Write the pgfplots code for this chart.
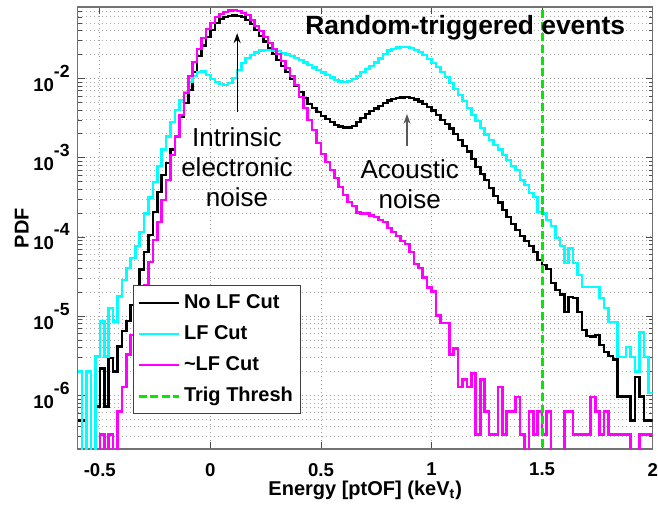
\documentclass[border=0pt]{standalone}
\usepackage{fontspec}
\setmainfont{Liberation Sans}
\usepackage{pgfplots}
\pgfplotsset{compat=1.18}
\usepackage{pgfplotstable}
\usetikzlibrary{calc,arrows.meta}
\definecolor{trig}{RGB}{0,235,0}
\definecolor{cyanl}{RGB}{0,255,255}
\definecolor{magl}{RGB}{255,0,255}
\newcommand{\tenpow}[1]{10\raisebox{7pt}{\fontsize{8.8}{9}\selectfont #1}}

\pgfplotstableread{
x b c m
-0.60 4.8e-7 2.0e-6 1e-9
-0.58 4.8e-7 1e-9 1e-9
-0.56 1e-9 2.0e-6 1e-9
-0.54 1e-9 1e-9 1e-9
-0.52 7.2e-7 3.1e-6 1e-9
-0.50 2.2e-6 8.5e-6 3.2e-7
-0.48 7.2e-7 3.1e-6 1e-9
-0.46 2.95e-6 1.26e-5 3.2e-7
-0.44 2.0e-6 8.5e-6 1e-9
-0.42 4.13e-6 1.77e-5 6.3e-7
-0.40 6.52e-6 2.87e-5 1.27e-6
-0.38 8.73e-6 4.07e-5 3.25e-6
-0.36 1.39e-5 5.45e-5 5.78e-6
-0.34 2.15e-5 7.72e-5 1.04e-5
-0.32 3.85e-5 1.16e-4 1.61e-5
-0.30 6.49e-5 1.96e-4 2.48e-5
-0.28 1.064e-4 3.12e-4 4.85e-5
-0.26 2.07e-4 4.96e-4 9.19e-5
-0.24 3.71e-4 7.90e-4 1.55e-4
-0.22 6.08e-4 1.26e-3 2.94e-4
-0.20 8.63e-4 1.84e-3 5.26e-4
-0.18 1.26e-3 2.84e-3 1.088e-3
-0.16 1.89e-3 4.02e-3 1.84e-3
-0.14 3.28e-3 5.38e-3 3.48e-3
-0.12 4.93e-3 6.79e-3 6.60e-3
-0.10 7.20e-3 9.08e-3 1.082e-2
-0.08 1.215e-2 1.082e-2 1.625e-2
-0.06 1.935e-2 1.215e-2 2.37e-2
-0.04 2.59e-2 1.233e-2 3.26e-2
-0.02 3.36e-2 1.113e-2 4.24e-2
0.00 4.12e-2 9.91e-3 5.05e-2
0.02 5.05e-2 9.08e-3 6.01e-2
0.04 5.67e-2 8.57e-3 6.56e-2
0.06 6.01e-2 8.33e-3 6.96e-2
0.08 6.19e-2 8.82e-3 7.26e-2
0.10 6.28e-2 1.020e-2 7.37e-2
0.12 6.19e-2 1.288e-2 7.16e-2
0.14 6.01e-2 1.578e-2 6.75e-2
0.16 5.51e-2 1.826e-2 6.37e-2
0.18 4.90e-2 1.992e-2 5.51e-2
0.20 4.12e-2 2.14e-2 4.63e-2
0.22 3.46e-2 2.24e-2 4.00e-2
0.24 2.91e-2 2.30e-2 3.36e-2
0.26 2.44e-2 2.30e-2 2.82e-2
0.28 2.05e-2 2.27e-2 2.37e-2
0.30 1.72e-2 2.22e-2 2.05e-2
0.32 1.446e-2 2.11e-2 1.673e-2
0.34 1.215e-2 2.02e-2 1.365e-2
0.36 9.91e-3 1.935e-2 1.082e-2
0.38 8.09e-3 1.826e-2 8.33e-3
0.40 6.79e-3 1.72e-2 5.87e-3
0.42 5.71e-3 1.60e-2 4.27e-3
0.44 4.79e-3 1.49e-2 3.01e-3
0.46 4.27e-3 1.385e-2 2.25e-3
0.48 3.80e-3 1.288e-2 1.542e-3
0.50 3.38e-3 1.198e-2 1.12e-3
0.52 3.10e-3 1.113e-2 8.88e-4
0.54 2.84e-3 1.036e-2 7.03e-4
0.56 2.60e-3 9.63e-3 5.57e-4
0.58 2.49e-3 9.22e-3 4.29e-4
0.60 2.42e-3 9.08e-3 3.40e-4
0.62 2.42e-3 9.35e-3 2.77e-4
0.64 2.53e-3 9.91e-3 2.47e-4
0.66 2.84e-3 1.082e-2 2.02e-4
0.68 3.19e-3 1.215e-2 1.96e-4
0.70 3.58e-3 1.326e-2 1.96e-4
0.72 3.91e-3 1.446e-2 1.85e-4
0.74 4.20e-3 1.60e-2 1.79e-4
0.76 4.52e-3 1.80e-2 1.64e-4
0.78 4.93e-3 2.05e-2 1.55e-4
0.80 5.31e-3 2.24e-2 1.30e-4
0.82 5.54e-3 2.37e-2 1.16e-4
0.84 5.71e-3 2.48e-2 1.03e-4
0.86 5.79e-3 2.51e-2 8.93e-5
0.88 5.82e-3 2.51e-2 8.18e-5
0.90 5.71e-3 2.44e-2 6.49e-5
0.92 5.46e-3 2.30e-2 4.57e-5
0.94 5.15e-3 2.17e-2 4.07e-5
0.96 4.79e-3 1.99e-2 3.05e-5
0.98 4.39e-3 1.77e-2 2.28e-5
1.00 3.97e-3 1.578e-2 2.03e-5
1.02 3.48e-3 1.405e-2 1.01e-5
1.04 3.01e-3 1.215e-2 8.23e-6
1.06 2.68e-3 1.051e-2 8.23e-6
1.08 2.35e-3 8.82e-3 3.25e-6
1.10 2.00e-3 7.41e-3 3.87e-6
1.12 1.68e-3 6.23e-3 1.27e-6
1.14 1.41e-3 5.23e-3 1.58e-6
1.16 1.19e-3 4.27e-3 1.27e-6
1.18 9.68e-4 3.48e-3 1.90e-6
1.20 7.68e-4 2.92e-3 3.2e-7
1.22 6.26e-4 2.38e-3 1.58e-6
1.24 5.26e-4 1.95e-3 6.3e-7
1.26 4.17e-4 1.68e-3 3.2e-7
1.28 3.30e-4 1.455e-3 3.2e-7
1.30 2.70e-4 1.26e-3 1.27e-6
1.32 2.20e-4 1.088e-3 3.2e-7
1.34 1.79e-4 9.41e-4 6.3e-7
1.36 1.46e-4 7.90e-4 6.3e-7
1.38 1.23e-4 7.03e-4 9.5e-7
1.40 1.03e-4 5.26e-4 3.2e-7
1.42 8.93e-5 4.55e-4 1e-9
1.44 7.72e-5 3.60e-4 6.3e-7
1.46 6.49e-5 3.21e-4 3.2e-7
1.48 5.14e-5 2.07e-4 6.3e-7
1.50 4.44e-5 1.96e-4 3.2e-7
1.52 3.96e-5 1.64e-4 6.3e-7
1.54 2.63e-5 1.38e-4 1e-9
1.56 2.15e-5 9.74e-5 1e-9
1.58 1.86e-5 7.72e-5 1e-9
1.60 1.13e-5 4.71e-5 6.3e-7
1.62 1.75e-5 7.28e-5 6.3e-7
1.64 1.70e-5 4.71e-5 3.2e-7
1.66 1.13e-5 3.32e-5 3.2e-7
1.68 6.72e-6 2.34e-5 3.2e-7
1.70 5.64e-6 2.34e-5 3.2e-7
1.72 5.52e-6 2.34e-5 9.5e-7
1.74 5.78e-6 2.34e-5 6.3e-7
1.76 4.34e-6 1.70e-5 3.2e-7
1.78 3.54e-6 1.27e-5 6.3e-7
1.80 3.15e-6 8.47e-6 3.2e-7
1.82 2.81e-6 8.47e-6 3.2e-7
1.84 9.6e-7 3.06e-6 3.2e-7
1.86 9.6e-7 3.06e-6 3.2e-7
1.88 9.6e-7 4.1e-6 3.2e-7
1.90 4.8e-7 3.06e-6 1e-9
1.92 1.71e-6 2.0e-6 1e-9
1.94 9.6e-7 6.33e-6 3.2e-7
1.96 4.8e-7 3.06e-6 3.2e-7
1.98 4.8e-7 1.07e-6 3.2e-7
2.00 4.8e-7 1.07e-6 3.2e-7
}\histdata

\begin{document}
\begin{tikzpicture}
\begin{axis}[
  scale only axis, width=287.5pt, height=221pt,
  xmin=-0.6, xmax=2, ymode=log, ymin=2.1e-7, ymax=0.08,
  xtick={-0.5,0,0.5,1,1.5,2},
  xticklabels={-0.5,0,0.5,1,1.5,2},
  ytick={1e-6,1e-5,1e-4,1e-3,1e-2},
  yticklabels={\tenpow{-6},\tenpow{-5},\tenpow{-4},\tenpow{-3},\tenpow{-2}},
  minor ytick={3e-7,4e-7,5e-7,6e-7,7e-7,8e-7,9e-7,
    2e-6,3e-6,4e-6,5e-6,6e-6,7e-6,8e-6,9e-6,
    2e-5,3e-5,4e-5,5e-5,6e-5,7e-5,8e-5,9e-5,
    2e-4,3e-4,4e-4,5e-4,6e-4,7e-4,8e-4,9e-4,
    2e-3,3e-3,4e-3,5e-3,6e-3,7e-3,8e-3,9e-3,
    2e-2,3e-2,4e-2,5e-2,6e-2,7e-2},
  ymajorgrids, yminorgrids, xmajorgrids,
  major grid style={black!38, dash pattern=on 0.5pt off 1.5pt, line width=0.45pt},
  minor grid style={black!33, dash pattern=on 0.5pt off 1.5pt, line width=0.45pt},
  tick align=inside,
  major tick length=3.5pt, minor tick length=2pt,
  tick style={black!70, line width=0.4pt},
  axis line style={black!55, line width=0.6pt},
  ticklabel style={font=\bfseries\fontsize{9.3}{11}\selectfont},
  xticklabel style={yshift=-3.5pt},
  yticklabel style={xshift=-0.5pt},
  xlabel={Energy [ptOF] (keV\textsubscript{t})},
  ylabel={PDF},
  label style={font=\bfseries\fontsize{10}{12}\selectfont},
  xlabel style={at={(axis description cs:0.5,0)}, anchor=base, yshift=-23pt},
  ylabel style={at={(axis description cs:-0.0975,0.5)}, anchor=center},
  legend style={at={(rel axis cs:0.0957,0.371)}, anchor=north west,
    draw=black!75, fill=white, line width=0.5pt,
    font=\bfseries\fontsize{10}{12}\selectfont,
    row sep=3pt, inner xsep=2pt, inner ysep=2.5pt},
  legend cell align=left,
  legend image code/.code={\draw[#1] (0pt,0pt) -- (20pt,0pt);},
  every axis plot/.append style={line width=1.3pt},
]
\addplot[black, const plot mark left] table[x=x, y=b] {\histdata};
\addlegendentry{No LF Cut}
\addplot[cyanl, const plot mark left] table[x=x, y=c] {\histdata};
\addlegendentry{LF Cut}
\addplot[magl, const plot mark left] table[x=x, y=m] {\histdata};
\addlegendentry{\textasciitilde LF Cut}
\addplot[trig, line width=1.4pt, dash pattern=on 4pt off 1.8pt] coordinates {(1.5,1e-9) (1.5,1)};
\addlegendentry{Trig Thresh}

\node[font=\bfseries\fontsize{13.2}{15}\selectfont, anchor=base] at (axis cs:1.152,0.0356) {Random-triggered events};
\node[font=\fontsize{13}{15}\selectfont, align=center, anchor=center] at (axis cs:0.12,7.67e-4) {Intrinsic\\electronic\\noise};
\node[font=\fontsize{13}{15}\selectfont, align=center, anchor=center] at (axis cs:0.901,4.68e-4) {Acoustic\\noise};
\draw[black, line width=0.6pt, -{Stealth[length=5pt, width=3.5pt]}] (axis cs:0.121,3.83e-3) -- (axis cs:0.121,3.74e-2);
\draw[black!65, line width=0.6pt, -{Stealth[length=5pt, width=3.5pt]}] (axis cs:0.889,1.426e-3) -- (axis cs:0.889,3.58e-3);

\coordinate (SW) at (rel axis cs:0,0);
\coordinate (NE) at (rel axis cs:1,1);
\end{axis}
\pgfresetboundingbox
\path[use as bounding box] ($(SW)+(-38.85pt,-28pt)$) rectangle ($(NE)+(2.65pt,3.5pt)$);
\end{tikzpicture}
\end{document}
